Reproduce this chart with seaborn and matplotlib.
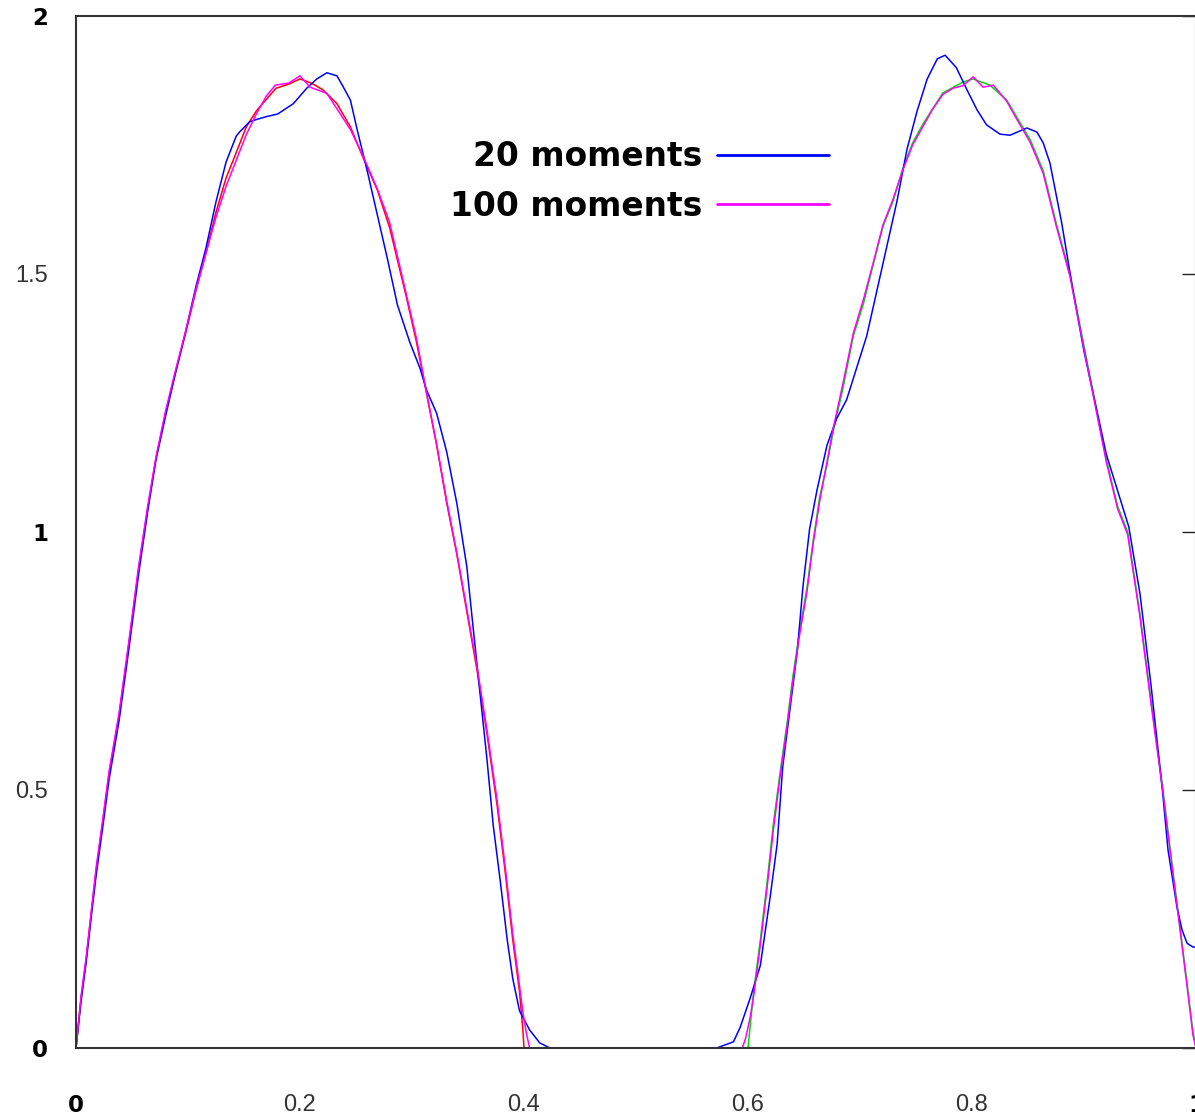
import numpy as np
import pandas as pd
import matplotlib
matplotlib.use("Agg")
import matplotlib.pyplot as plt
import seaborn as sns

# exact function, first hump (red)
x_red = [0, 0.0045, 0.009, 0.0134, 0.018, 0.024, 0.0295, 0.0385, 0.047, 0.056, 0.064, 0.0714,
         0.080, 0.089, 0.098, 0.107, 0.116, 0.125, 0.134, 0.143, 0.152, 0.161, 0.1786, 0.19,
         0.2, 0.21, 0.2205, 0.233, 0.245, 0.256, 0.269, 0.280, 0.295, 0.304, 0.313, 0.322,
         0.331, 0.340, 0.349, 0.358, 0.367, 0.376, 0.383, 0.390, 0.396, 0.399, 0.4]
y_red = [0, 0.097, 0.17, 0.258, 0.345, 0.44, 0.533, 0.645, 0.78, 0.93, 1.045, 1.143,
         1.23, 1.31, 1.386, 1.467, 1.54, 1.62, 1.686, 1.735, 1.785, 1.816, 1.86, 1.868,
         1.878, 1.87, 1.857, 1.83, 1.785, 1.727, 1.663, 1.59, 1.455, 1.368, 1.268, 1.168,
         1.056, 0.957, 0.845, 0.733, 0.608, 0.47, 0.345, 0.209, 0.109, 0.035, 0]

# exact function, second hump (green)
x_green = [0.6, 0.605, 0.611, 0.617, 0.6225, 0.6286, 0.635, 0.640, 0.646, 0.6527, 0.658, 0.664,
           0.6705, 0.676, 0.685, 0.694, 0.703, 0.7116, 0.7205, 0.7295, 0.738, 0.747, 0.756,
           0.774, 0.792, 0.801, 0.816, 0.831, 0.840, 0.852, 0.8636, 0.875, 0.8875, 0.90, 0.91,
           0.92, 0.93, 0.939, 0.95, 0.96, 0.9705, 0.977, 0.9857, 0.992, 0.9973, 1.0]
y_green = [0, 0.109, 0.209, 0.32, 0.432, 0.533, 0.632, 0.719, 0.806, 0.893, 0.98, 1.068,
           1.131, 1.194, 1.281, 1.38, 1.442, 1.517, 1.592, 1.641, 1.703, 1.754, 1.79,
           1.851, 1.872, 1.878, 1.866, 1.837, 1.804, 1.76, 1.70, 1.60, 1.5, 1.36, 1.25,
           1.14, 1.05, 1.0, 0.84, 0.67, 0.5, 0.384, 0.234, 0.126, 0.03, 0]

# 20 moments (blue)
x_20 = [0, 0.0045, 0.009, 0.0134, 0.018, 0.024, 0.0295, 0.0385, 0.047, 0.056, 0.064, 0.0714,
        0.080, 0.089, 0.098, 0.107, 0.116, 0.125, 0.134, 0.143, 0.146, 0.155, 0.162, 0.17,
        0.18, 0.187, 0.194, 0.2, 0.206, 0.215, 0.224, 0.233, 0.238, 0.245, 0.251, 0.26,
        0.269, 0.278, 0.287, 0.298, 0.307, 0.313, 0.322, 0.331, 0.340, 0.349, 0.355, 0.361,
        0.367, 0.3725, 0.379, 0.385, 0.390, 0.396, 0.405, 0.414, 0.423,
        0.5, 0.572, 0.587, 0.593, 0.602, 0.611, 0.62, 0.626, 0.631, 0.6375, 0.644, 0.649,
        0.655, 0.6616, 0.6705, 0.679, 0.688, 0.697, 0.706, 0.715, 0.724, 0.733, 0.742, 0.751,
        0.760, 0.769, 0.776, 0.786, 0.7955, 0.8045, 0.813, 0.825, 0.834, 0.849, 0.858, 0.8636,
        0.8696, 0.88, 0.89, 0.90, 0.91, 0.92, 0.93, 0.94, 0.95, 0.96, 0.97, 0.975, 0.983,
        0.9875, 0.992, 0.997, 1.0]
y_20 = [0, 0.09, 0.165, 0.25, 0.335, 0.43, 0.52, 0.635, 0.77, 0.92, 1.04, 1.14,
        1.225, 1.31, 1.39, 1.475, 1.55, 1.64, 1.717, 1.767, 1.775, 1.795, 1.80, 1.805,
        1.81, 1.82, 1.83, 1.845, 1.86, 1.878, 1.89, 1.884, 1.865, 1.837, 1.78, 1.70,
        1.615, 1.53, 1.44, 1.368, 1.318, 1.275, 1.23, 1.155, 1.056, 0.932, 0.806, 0.682,
        0.558, 0.432, 0.32, 0.21, 0.134, 0.072, 0.035, 0.01, 0,
        0, 0, 0.012, 0.04, 0.097, 0.16, 0.296, 0.395, 0.545, 0.657, 0.769, 0.893,
        1.006, 1.081, 1.168, 1.219, 1.256, 1.318, 1.38, 1.467, 1.554, 1.641, 1.742, 1.816,
        1.878, 1.917, 1.924, 1.90, 1.857, 1.818, 1.789, 1.771, 1.769, 1.783, 1.775, 1.754,
        1.715, 1.60, 1.47, 1.35, 1.25, 1.15, 1.08, 1.01, 0.88, 0.70, 0.50, 0.384, 0.273,
        0.229, 0.203, 0.196, 0.195]

# 100 moments (magenta)
x_100 = [0, 0.0045, 0.009, 0.0134, 0.018, 0.024, 0.0295, 0.0385, 0.047, 0.056, 0.064, 0.0714,
         0.080, 0.089, 0.098, 0.107, 0.116, 0.125, 0.134, 0.143, 0.152, 0.161, 0.17, 0.178,
         0.19, 0.2, 0.209, 0.224, 0.236, 0.245, 0.256, 0.269, 0.280, 0.295, 0.304, 0.313,
         0.322, 0.331, 0.340, 0.349, 0.358, 0.367, 0.376, 0.383, 0.390, 0.396, 0.399, 0.402,
         0.405, 0.5,
         0.595, 0.598, 0.602, 0.605, 0.611, 0.617, 0.6225, 0.6286, 0.635, 0.640, 0.646, 0.6527,
         0.658, 0.664, 0.6705, 0.676, 0.685, 0.694, 0.703, 0.7116, 0.7205, 0.7295, 0.738,
         0.747, 0.756, 0.765, 0.774, 0.783, 0.792, 0.801, 0.81, 0.819, 0.831, 0.840, 0.852,
         0.8636, 0.875, 0.8875, 0.90, 0.91, 0.92, 0.93, 0.939, 0.95, 0.96, 0.9705, 0.977,
         0.9857, 0.992, 0.9973, 1.0]
y_100 = [0, 0.10, 0.175, 0.26, 0.35, 0.445, 0.535, 0.65, 0.785, 0.935, 1.05, 1.145,
         1.235, 1.315, 1.39, 1.47, 1.54, 1.61, 1.67, 1.72, 1.77, 1.81, 1.845, 1.866,
         1.87, 1.884, 1.862, 1.85, 1.81, 1.78, 1.73, 1.665, 1.60, 1.46, 1.375, 1.27,
         1.17, 1.06, 0.96, 0.85, 0.74, 0.615, 0.48, 0.355, 0.22, 0.12, 0.07, 0.03,
         0, 0,
         0, 0.02, 0.06, 0.1, 0.2, 0.31, 0.42, 0.525, 0.625, 0.71, 0.80, 0.885,
         0.975, 1.06, 1.135, 1.2, 1.29, 1.385, 1.45, 1.52, 1.595, 1.645, 1.70,
         1.75, 1.785, 1.82, 1.848, 1.86, 1.865, 1.882, 1.862, 1.866, 1.835, 1.80, 1.755,
         1.695, 1.595, 1.495, 1.355, 1.245, 1.135, 1.045, 0.995, 0.835, 0.665, 0.495, 0.38,
         0.23, 0.12, 0.025, 0]

x_ticks = [0, 0.2, 0.4, 0.6, 0.8, 1]
x_labels = ["0", "0.2", "0.4", "0.6", "0.8", "1"]
y_ticks = [0, 0.5, 1, 1.5, 2]
y_labels = ["0", "0.5", "1", "1.5", "2"]

sns.set_theme(style="white")
plt.rcParams['font.family'] = ['Liberation Sans', 'DejaVu Sans']

fig = plt.figure(figsize=(11.95, 11.2), dpi=100)
ax = fig.add_axes([76 / 1195, 72 / 1120, 1120 / 1195, 1032 / 1120])

sns.lineplot(x=x_red, y=y_red, color="#ff0000", lw=1.1, sort=False, estimator=None, ax=ax)
sns.lineplot(x=x_green, y=y_green, color="#00dd00", lw=1.1, sort=False, estimator=None, ax=ax)
sns.lineplot(x=x_20, y=y_20, color="#0000ff", lw=1.1, sort=False, estimator=None, ax=ax,
             label="20 moments")
sns.lineplot(x=x_100, y=y_100, color="#ff00ff", lw=1.1, sort=False, estimator=None, ax=ax,
             label="100 moments")

ax.set_xlim(0, 1)
ax.set_ylim(0, 2)
ax.set_xticks(x_ticks, x_labels)
ax.set_yticks(y_ticks, y_labels)
ax.tick_params(axis="both", direction="in", length=10, width=1, top=False, right=True,
               color="#222222")
ax.tick_params(axis="x", pad=33)
ax.tick_params(axis="y", pad=20)
for lab in ax.get_xticklabels() + ax.get_yticklabels():
    if "." in lab.get_text():
        lab.set_fontsize(17)
        lab.set_color("#333333")
    else:
        lab.set_family("DejaVu Sans")
        lab.set_fontsize(16.5)
        lab.set_fontweight("bold")
        lab.set_color("black")

for sp in ax.spines.values():
    sp.set_color("#333333")
    sp.set_linewidth(1.5)

leg = ax.legend(loc="upper right", bbox_to_anchor=(845 / 1195, 1 - 124 / 1120),
                bbox_transform=fig.transFigure, frameon=False, markerfirst=False,
                borderpad=0, handlelength=3.4, handletextpad=0.45, labelspacing=0.5,
                prop={"family": "DejaVu Sans", "weight": "bold", "size": 23.7})
for line in leg.get_lines():
    line.set_linewidth(2.0)
for txt in leg.get_texts():
    txt.set_color("black")

fig.savefig("out.png", dpi=100)
